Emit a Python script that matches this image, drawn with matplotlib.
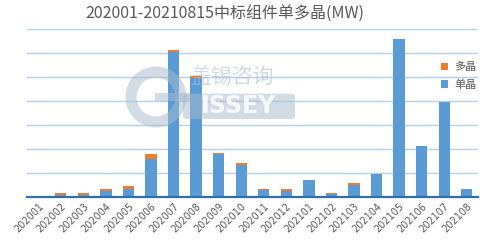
import numpy as np
import matplotlib.pyplot as plt
from matplotlib.patches import Circle, FancyBboxPatch, Rectangle

plt.rcParams['font.family'] = ['Noto Sans CJK SC', 'DejaVu Sans']

months = ["202001", "202002", "202003", "202004", "202005", "202006", "202007",
          "202008", "202009", "202010", "202011", "202012", "202101", "202102",
          "202103", "202104", "202105", "202106", "202107", "202108"]
# 单晶 (mono) and 多晶 (poly), in grid units
mono = [0.02, 0.10, 0.10, 0.27, 0.35, 1.60, 6.05, 4.97, 1.78, 1.35, 0.28, 0.27,
        0.72, 0.12, 0.52, 0.95, 6.57, 2.11, 3.95, 0.33]
poly = [0.0, 0.05, 0.05, 0.06, 0.09, 0.17, 0.06, 0.06, 0.07, 0.06, 0.06, 0.06,
        0.0, 0.06, 0.07, 0.0, 0.0, 0.0, 0.0, 0.0]

blue = "#5B9BD5"
orange = "#ED7D31"
grey_text = "#595959"

fig = plt.figure(figsize=(5.0, 2.41), dpi=100)
ax = fig.add_axes([0.054, 0.1826, 0.902, 0.6974])

x = np.arange(len(months))
ax.bar(x, mono, width=0.5, color=blue, zorder=3, label="单晶")
ax.bar(x, poly, width=0.5, bottom=mono, color=orange, zorder=3, label="多晶")

ax.set_xlim(-0.5, len(months) - 0.5)
ax.set_ylim(0, 7)
ax.set_yticks(np.arange(0, 8))
ax.yaxis.grid(True, color="#B7D0EC", linewidth=1.0, zorder=0)
ax.tick_params(axis="y", left=False, labelleft=False)
ax.tick_params(axis="x", length=0, pad=3)
ax.set_xticks(x)
ax.set_xticklabels(months, rotation=45, ha="right", rotation_mode="anchor",
                   fontsize=7, color=grey_text, family="DejaVu Sans")
for s in ["top", "right", "left"]:
    ax.spines[s].set_visible(False)
ax.spines["bottom"].set_color("#2F6EB5")
ax.spines["bottom"].set_linewidth(1.6)
ax.spines["bottom"].set_zorder(4)

# watermark (logo ring, Chinese name, grey box with letters)
wm = "#A9BBCD"
circ = Circle((156, 241 - 97), 25, transform=None, fill=False, edgecolor=wm,
              linewidth=8, alpha=0.5, zorder=2)
fig.patches.append(circ)
bar = Rectangle((0.31, 1 - 101 / 241), 0.07, 0.035, transform=fig.transFigure,
                facecolor=wm, edgecolor="none", alpha=0.5, zorder=2)
fig.patches.append(bar)
fig.text(0.38, 1 - 77 / 241, "盖锡咨询", fontsize=15, color=wm, alpha=0.55,
         ha="left", va="center", zorder=2)
box = FancyBboxPatch((0.366, 1 - 119 / 241), 0.224, 0.105,
                     boxstyle="round,pad=0,rounding_size=0.01",
                     transform=fig.transFigure, facecolor=wm, edgecolor="none",
                     alpha=0.5, zorder=2)
fig.patches.append(box)
fig.text(0.478, 1 - 106 / 241, "ISSEY", fontsize=17, color="white", alpha=0.85,
         ha="center", va="center", fontweight="bold", family="DejaVu Sans",
         zorder=2)

handles, labels = ax.get_legend_handles_labels()
ax.legend(handles[::-1], labels[::-1], loc="upper left",
          bbox_to_anchor=(0.895, 0.86), frameon=False, fontsize=8,
          handlelength=0.7, handleheight=0.7, handletextpad=0.5,
          labelspacing=0.6, labelcolor=grey_text)

fig.text(0.45, 1 - 13 / 241, "202001-20210815中标组件单多晶(MW)", fontsize=11.5,
         color=grey_text, ha="center", va="center")

fig.savefig("out.png", dpi=100)
